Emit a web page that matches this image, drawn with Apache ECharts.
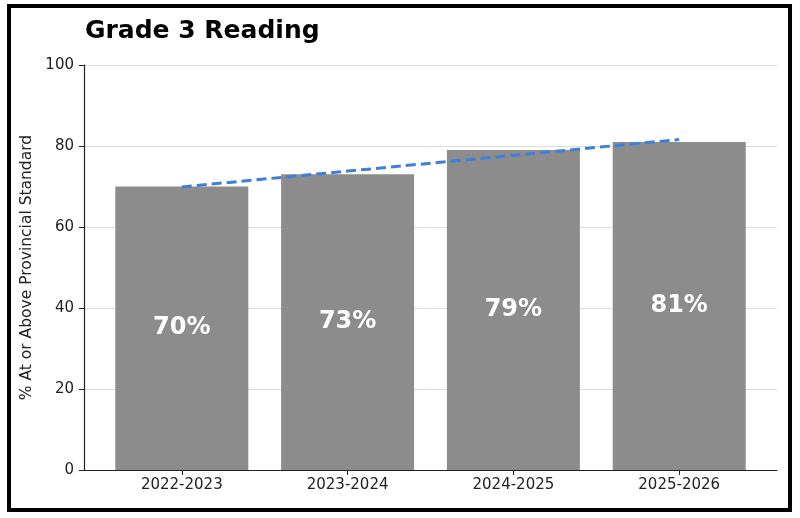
<!DOCTYPE html>
<html>
<head>
<meta charset="utf-8">
<script src="https://cdn.jsdelivr.net/npm/echarts@6/dist/echarts.min.js"></script>
<style>
  html, body { margin: 0; padding: 0; background: #fff; }
  #frame { position: absolute; left: 7px; top: 4px; width: 777px; height: 500px; border: 4px solid #000; }
  #chart { position: absolute; left: 0; top: 0; width: 800px; height: 518px; }
</style>
</head>
<body>
<div id="frame"></div>
<div id="chart"></div>
<script>
// 数据
var years = ['2022-2023', '2023-2024', '2024-2025', '2025-2026'];
var scores = [70, 73, 79, 81];
// 趋势线
var trend = [69.9, 73.8, 77.7, 81.6];
var yTicks = [0, 20, 40, 60, 80, 100];

var myChart = echarts.init(document.getElementById('chart'));

var option = {
    animation: false,
    title: {
        text: 'Grade 3 Reading',
        left: 80,
        top: 14,
        textStyle: {
            fontFamily: 'DejaVu Sans',
            fontWeight: 'bold',
            fontSize: 25,
            color: '#000'
        }
    },
    grid: {
        left: 84,
        right: 23,
        top: 65,
        bottom: 48
    },
    xAxis: {
        type: 'value',
        min: -0.59,
        max: 3.59,
        splitLine: { show: false },
        axisLine: { show: true, onZero: false, lineStyle: { color: '#222', width: 1.2 } },
        axisTick: {
            show: true,
            customValues: [0, 1, 2, 3],
            length: 5,
            lineStyle: { color: '#222' }
        },
        axisLabel: {
            customValues: [0, 1, 2, 3],
            margin: 8,
            fontFamily: 'DejaVu Sans',
            fontSize: 15,
            color: '#222',
            formatter: function (v) { return years[Math.round(v)]; }
        }
    },
    yAxis: {
        type: 'value',
        min: 0,
        max: 100,
        interval: 20,
        name: '% At or Above Provincial Standard',
        nameLocation: 'middle',
        nameGap: 48,
        nameTextStyle: {
            fontFamily: 'DejaVu Sans',
            fontSize: 15.5,
            color: '#222'
        },
        axisLine: { show: true, onZero: false, lineStyle: { color: '#222', width: 1.2 } },
        axisTick: {
            show: true,
            customValues: yTicks,
            length: 5,
            lineStyle: { color: '#222', width: 1 }
        },
        axisLabel: {
            customValues: yTicks,
            margin: 10,
            fontFamily: 'DejaVu Sans',
            fontSize: 15,
            color: '#222'
        },
        splitLine: { show: true, lineStyle: { color: '#dcdcdc', width: 1 } }
    },
    series: [
        {
            name: 'score',
            type: 'bar',
            barWidth: 133,
            data: scores.map(function (v, i) { return [i, v]; }),
            itemStyle: { color: '#8c8c8c' },
            label: {
                show: true,
                position: 'inside',
                fontFamily: 'DejaVu Sans',
                fontWeight: 'bold',
                fontSize: 24,
                color: '#fff',
                formatter: function (p) { return p.value[1] + '%'; }
            },
            z: 2
        },
        {
            name: 'trend',
            type: 'line',
            data: trend.map(function (v, i) { return [i, v]; }),
            showSymbol: false,
            symbol: 'none',
            lineStyle: { color: '#3f7fdc', width: 3, type: [10, 5] },
            z: 3
        }
    ]
};

myChart.setOption(option);
</script>
</body>
</html>
